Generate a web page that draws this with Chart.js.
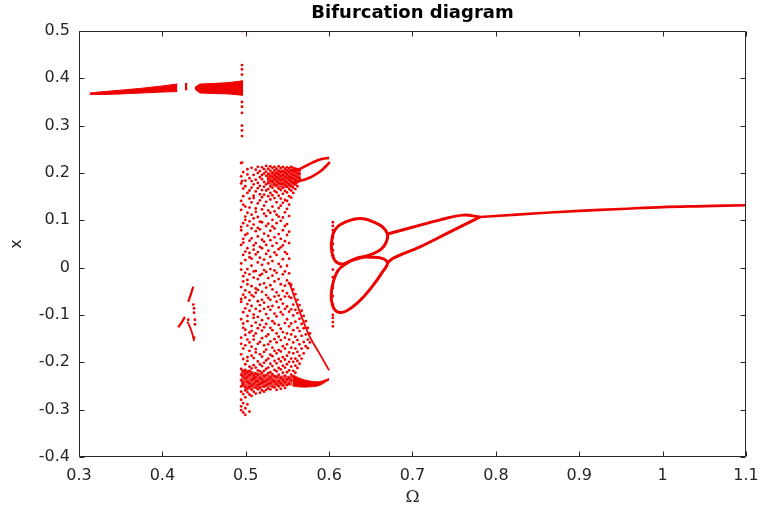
<!DOCTYPE html>
<html>
<head>
<meta charset="utf-8">
<script src="https://cdn.jsdelivr.net/npm/chart.js@4/dist/chart.umd.min.js"></script>
<style>
  html, body { margin: 0; background: #fff; }
</style>
</head>
<body>
<canvas id="chart" width="760" height="508"></canvas>
<script>
// axis ticks
const omegaTicks = [0.3, 0.4, 0.5, 0.6, 0.7, 0.8, 0.9, 1.0, 1.1];
const xTicks = [-0.4, -0.3, -0.2, -0.1, 0, 0.1, 0.2, 0.3, 0.4, 0.5];

// period-1 band near x = 0.38 (upper / lower edge of each piece)
const band1Om  = [0.313, 0.33, 0.35, 0.375, 0.4, 0.418];
const band1Top = [0.369, 0.372, 0.375, 0.379, 0.384, 0.388];
const band1Bot = [0.366, 0.366, 0.367, 0.369, 0.371, 0.372];
const band2Om  = [0.427, 0.430];
const band2Top = [0.389, 0.389];
const band2Bot = [0.376, 0.376];
const band3Om  = [0.439, 0.445, 0.46, 0.48, 0.497];
const band3Top = [0.381, 0.388, 0.389, 0.391, 0.395];
const band3Bot = [0.377, 0.369, 0.368, 0.367, 0.364];

// isolated iterates along Omega = 0.4955
const stripOm = 0.4955;
const stripX = [0.5, 0.428, 0.419, 0.408, 0.35, 0.34, 0.327, 0.3, 0.29, 0.278, 0.222, 0.183];

// small island around Omega = 0.42..0.44
const islandAOm = [0.419, 0.423, 0.427];
const islandAX  = [-0.126, -0.116, -0.104];
const islandBOm = [0.431, 0.434, 0.437];
const islandBX  = [-0.072, -0.057, -0.040];
const islandCOm = [0.430, 0.433, 0.436, 0.438];
const islandCX  = [-0.114, -0.125, -0.140, -0.155];
const islandDotOm = [0.437, 0.438, 0.438, 0.439, 0.439, 0.438, 0.431];
const islandDotX  = [-0.078, -0.086, -0.095, -0.110, -0.120, -0.148, -0.110];

// chaotic window: one column of iterates per Omega sample
const cloudOmega = [0.4945, 0.497, 0.4995, 0.502, 0.5045, 0.507, 0.5095, 0.512, 0.5145, 0.517,
  0.5195, 0.522, 0.5245, 0.527, 0.5295, 0.532, 0.5345, 0.537, 0.5395, 0.542, 0.5445, 0.547,
  0.5495, 0.552, 0.5545, 0.557, 0.5595, 0.562, 0.5645, 0.567, 0.5695, 0.572, 0.5745, 0.577];
const cloudX = [
  [0.221, 0.193, 0.178, 0.141, 0.122, 0.086, 0.079, 0.048, 0.009, -0.004, -0.041, -0.066, -0.072, -0.109, -0.148, -0.161, -0.183, -0.214, -0.226, -0.238, -0.251, -0.262, -0.279, -0.293, -0.301],
  [0.202, 0.167, 0.151, 0.133, 0.094, 0.061, 0.053, 0.027, -0.018, -0.029, -0.057, -0.094, -0.118, -0.127, -0.171, -0.193, -0.219, -0.229, -0.243, -0.248, -0.267, -0.286, -0.306],
  [0.184, 0.172, 0.129, 0.108, 0.101, 0.069, 0.034, 0.016, -0.011, -0.048, -0.063, -0.086, -0.131, -0.142, -0.164, -0.204, -0.216, -0.224, -0.234, -0.253, -0.259, -0.274, -0.297, -0.311],
  [0.208, 0.197, 0.158, 0.116, 0.089, 0.072, 0.041, -0.003, -0.026, -0.035, -0.077, -0.102, -0.113, -0.152, -0.189, -0.197, -0.221, -0.231, -0.241, -0.256, -0.263, -0.289],
  [0.189, 0.163, 0.146, 0.127, 0.098, 0.057, 0.031, 0.022, -0.014, -0.052, -0.069, -0.091, -0.137, -0.158, -0.176, -0.209, -0.218, -0.227, -0.244, -0.252, -0.268, -0.304],
  [0.211, 0.183, 0.169, 0.138, 0.112, 0.083, 0.062, 0.019, 0.004, -0.039, -0.058, -0.081, -0.123, -0.134, -0.167, -0.186, -0.213, -0.223, -0.237, -0.249, -0.258, -0.271],
  [0.196, 0.176, 0.152, 0.147, 0.104, 0.091, 0.047, 0.038, -0.008, -0.021, -0.061, -0.099, -0.106, -0.144, -0.152, -0.191, -0.206, -0.228, -0.235, -0.246, -0.262],
  [0.207, 0.186, 0.161, 0.125, 0.118, 0.077, 0.052, 0.028, -0.007, -0.044, -0.053, -0.087, -0.116, -0.139, -0.172, -0.179, -0.211, -0.224, -0.232, -0.241, -0.253, -0.266],
  [0.213, 0.2, 0.179, 0.168, 0.136, 0.107, 0.084, 0.066, 0.033, 0.011, -0.024, -0.047, -0.071, -0.104, -0.128, -0.161, -0.198, -0.217, -0.226, -0.239, -0.248, -0.257],
  [0.204, 0.191, 0.173, 0.155, 0.142, 0.097, 0.081, 0.044, 0.021, -0.016, -0.036, -0.079, -0.092, -0.121, -0.157, -0.183, -0.204, -0.219, -0.233, -0.245, -0.254, -0.264],
  [0.212, 0.196, 0.187, 0.164, 0.149, 0.123, 0.096, 0.059, 0.041, 0.006, -0.013, -0.051, -0.068, -0.111, -0.133, -0.149, -0.188, -0.208, -0.222, -0.236, -0.243, -0.259],
  [0.208, 0.199, 0.181, 0.171, 0.154, 0.131, 0.114, 0.072, 0.055, 0.017, -0.005, -0.033, -0.074, -0.087, -0.126, -0.164, -0.178, -0.201, -0.218, -0.229, -0.241, -0.251, -0.262],
  [0.215, 0.203, 0.194, 0.176, 0.163, 0.139, 0.109, 0.088, 0.048, 0.029, -0.009, -0.042, -0.058, -0.098, -0.119, -0.145, -0.173, -0.196, -0.214, -0.227, -0.239, -0.248, -0.258],
  [0.209, 0.198, 0.188, 0.179, 0.166, 0.151, 0.121, 0.093, 0.067, 0.036, 0.009, -0.022, -0.064, -0.083, -0.107, -0.141, -0.162, -0.192, -0.211, -0.223, -0.236, -0.246, -0.255],
  [0.214, 0.205, 0.193, 0.184, 0.172, 0.158, 0.144, 0.116, 0.078, 0.058, 0.023, -0.003, -0.037, -0.068, -0.089, -0.127, -0.156, -0.184, -0.203, -0.221, -0.232, -0.244, -0.257],
  [0.211, 0.201, 0.192, 0.182, 0.169, 0.153, 0.129, 0.101, 0.087, 0.046, 0.014, -0.017, -0.046, -0.081, -0.113, -0.132, -0.169, -0.187, -0.208, -0.225, -0.238, -0.252],
  [0.213, 0.206, 0.196, 0.187, 0.176, 0.162, 0.147, 0.119, 0.083, 0.064, 0.032, -0.006, -0.029, -0.061, -0.097, -0.118, -0.151, -0.176, -0.197, -0.216, -0.229, -0.241, -0.253],
  [0.209, 0.2, 0.191, 0.183, 0.174, 0.159, 0.138, 0.112, 0.094, 0.052, 0.027, -0.011, -0.052, -0.072, -0.103, -0.139, -0.158, -0.181, -0.202, -0.219, -0.231, -0.246, -0.258],
  [0.214, 0.205, 0.197, 0.188, 0.179, 0.167, 0.152, 0.126, 0.108, 0.071, 0.039, 0.008, -0.024, -0.059, -0.084, -0.121, -0.146, -0.174, -0.193, -0.212, -0.226, -0.24, -0.251],
  [0.21, 0.202, 0.193, 0.185, 0.177, 0.164, 0.146, 0.131, 0.099, 0.061, 0.043, 0.002, -0.035, -0.067, -0.094, -0.129, -0.153, -0.177, -0.198, -0.215, -0.233, -0.244, -0.256],
  [0.213, 0.204, 0.196, 0.187, 0.178, 0.169, 0.156, 0.137, 0.106, 0.079, 0.047, 0.018, -0.014, -0.049, -0.076, -0.099, -0.136, -0.166, -0.189, -0.207, -0.222, -0.237, -0.249],
  [0.209, 0.201, 0.192, 0.183, 0.175, 0.162, 0.143, 0.117, 0.088, 0.056, 0.033, -0.008, -0.038, -0.061, -0.087, -0.117, -0.148, -0.171, -0.194, -0.211, -0.228, -0.242, -0.254],
  [0.212, 0.205, 0.197, 0.189, 0.18, 0.171, 0.159, 0.141, 0.124, 0.092, 0.069, 0.029, 0.004, -0.027, -0.054, -0.082, -0.109, -0.139, -0.162, -0.186, -0.204, -0.221, -0.236, -0.248],
  [0.21, 0.202, 0.193, 0.186, 0.176, 0.166, 0.151, 0.133, 0.109, 0.076, 0.052, 0.019, -0.012, -0.033, -0.061, -0.093, -0.124, -0.152, -0.179, -0.199, -0.217, -0.233, -0.245],
  [0.213, 0.206, 0.198, 0.19, 0.182, 0.172, 0.163, 0.148, -0.036, -0.064, -0.088, -0.118, -0.141, -0.169, -0.192, -0.209, -0.226, -0.238],
  [0.211, 0.204, 0.196, 0.188, 0.179, 0.169, 0.158, -0.046, -0.078, -0.101, -0.132, -0.158, -0.181, -0.199, -0.218, -0.231],
  [0.209, 0.202, 0.194, 0.186, 0.176, 0.166, -0.056, -0.089, -0.114, -0.146, -0.171, -0.192, -0.207, -0.222],
  [0.208, 0.2, 0.192, 0.183, 0.172, -0.068, -0.096, -0.127, -0.153, -0.178, -0.197, -0.212],
  [0.206, 0.198, 0.189, -0.079, -0.108, -0.134, -0.162, -0.186, -0.203],
  [-0.091, -0.119, -0.144, -0.171, -0.192],
  [-0.102, -0.128, -0.157, -0.181],
  [-0.113, -0.141, -0.166],
  [-0.127, -0.152, -0.17],
  [-0.139, -0.158]
];

// dense parts of the chaotic window
const lowBandOm  = [0.494, 0.505, 0.515, 0.53, 0.545, 0.556];
const lowBandTop = [-0.214, -0.217, -0.222, -0.226, -0.228, -0.229];
const lowBandBot = [-0.25, -0.258, -0.255, -0.252, -0.25, -0.249];
const wedgeOm  = [0.525, 0.54, 0.555, 0.566];
const wedgeTop = [0.2, 0.206, 0.209, 0.21];
const wedgeBot = [0.178, 0.168, 0.17, 0.182];

// claws closing the window at Omega = 0.6
const clawUpOm  = [0.556, 0.564, 0.572, 0.58, 0.59, 0.600];
const clawUpX   = [0.205, 0.208, 0.215, 0.222, 0.229, 0.232];
const clawUp2Om = [0.556, 0.564, 0.572, 0.58, 0.59, 0.601];
const clawUp2X  = [0.178, 0.183, 0.187, 0.193, 0.204, 0.223];
const clawLowOm  = [0.556, 0.565, 0.575, 0.588, 0.6];
const clawLowTop = [-0.226, -0.234, -0.239, -0.241, -0.234];
const clawLowBot = [-0.25, -0.252, -0.252, -0.249, -0.237];
const edgeOm = [0.552, 0.563, 0.576, 0.588, 0.6];
const edgeX  = [-0.03, -0.085, -0.143, -0.18, -0.217];

// period-2 loops
const loopUpOm = [0.6025, 0.605, 0.611, 0.619, 0.631, 0.643, 0.654, 0.664, 0.670, 0.6685, 0.6625, 0.652, 0.640, 0.628, 0.617, 0.6085, 0.604, 0.6025];
const loopUpX  = [0.048, 0.073, 0.088, 0.096, 0.103, 0.103, 0.096, 0.086, 0.071, 0.054, 0.039, 0.029, 0.022, 0.016, 0.008, 0.012, 0.027, 0.048];
const loopLowOm = [0.623, 0.611, 0.605, 0.6025, 0.604, 0.6085, 0.617, 0.628, 0.640, 0.652, 0.6625, 0.670, 0.6625, 0.6495, 0.637, 0.623];
const loopLowX  = [0.012, -0.005, -0.03, -0.058, -0.079, -0.092, -0.094, -0.083, -0.064, -0.039, -0.013, 0.010, 0.020, 0.022, 0.022, 0.012];
const sideOm = 0.6045;
const sideX = [0.096, 0.088, 0.079, 0.064, 0.05, 0.037, 0.026, -0.004, -0.02, -0.043, -0.06, -0.078, -0.1, -0.106, -0.115, -0.124];

// period-2 branches merging into the period-1 tail
const branchUpOm = [0.670, 0.701, 0.733, 0.761, 0.781];
const branchUpX  = [0.071, 0.086, 0.101, 0.111, 0.107];
const branchLowOm = [0.670, 0.677, 0.709, 0.742, 0.766, 0.781];
const branchLowX  = [0.010, 0.020, 0.044, 0.073, 0.094, 0.107];
const tailOm = [0.781, 0.8, 0.85, 0.9, 0.95, 1.0, 1.05, 1.1];
const tailX  = [0.107, 0.109, 0.115, 0.120, 0.124, 0.128, 0.130, 0.132];

const RED = 'rgb(238,0,0)';
const RED_DENSE = 'rgba(238,0,0,0.7)';
const AXIS = '#262626';

const pts = (om, xs) => om.map((o, i) => ({ x: o, y: xs[i] }));
const col = (o, xs) => xs.map(v => ({ x: o, y: v }));

const curve = (data, width, extra) => Object.assign({
  data, showLine: true, borderColor: RED, backgroundColor: RED,
  borderWidth: width, pointRadius: 0, tension: 0.35, fill: false
}, extra || {});
const dots = (data, r) => ({
  data, showLine: false, pointRadius: r || 1.4, pointHoverRadius: 0,
  pointBackgroundColor: RED, pointBorderWidth: 0
});
// a filled band: upper edge fills down to the next dataset
const band = (om, top, bot, tension, color) => [
  curve(pts(om, top), color ? 0 : 1, { fill: '+1', tension: tension || 0, backgroundColor: color || RED }),
  curve(pts(om, bot), color ? 0 : 1, { tension: tension || 0 })
];

const cloudPts = cloudOmega.flatMap((o, i) => col(o, cloudX[i]));

const datasets = [
  ...band(band1Om, band1Top, band1Bot),
  ...band(band2Om, band2Top, band2Bot),
  ...band(band3Om, band3Top, band3Bot),
  dots(col(stripOm, stripX)),
  curve(pts(islandAOm, islandAX), 2.2),
  curve(pts(islandBOm, islandBX), 2.2),
  curve(pts(islandCOm, islandCX), 1.8),
  dots(pts(islandDotOm, islandDotX)),
  dots(cloudPts),
  ...band(lowBandOm, lowBandTop, lowBandBot, 0.3, RED_DENSE),
  ...band(wedgeOm, wedgeTop, wedgeBot, 0.3, RED_DENSE),
  curve(pts(clawUpOm, clawUpX), 2.6),
  curve(pts(clawUp2Om, clawUp2X), 2.6),
  ...band(clawLowOm, clawLowTop, clawLowBot, 0.3),
  curve(pts(edgeOm, edgeX), 1.8),
  curve(pts(loopUpOm, loopUpX), 3),
  curve(pts(loopLowOm, loopLowX), 3),
  dots(col(sideOm, sideX)),
  curve(pts(branchUpOm, branchUpX), 3),
  curve(pts(branchLowOm, branchLowX), 3),
  curve(pts(tailOm, tailX), 2.6)
];

// box around the plot area with inward tick marks on all four sides
const frame = {
  id: 'frame',
  afterDatasetsDraw(chart) {
    const { ctx, chartArea: a, scales } = chart;
    const L = Math.round(a.left) + 0.5, R = Math.round(a.right) - 0.5;
    const T = Math.round(a.top) + 0.5, B = Math.round(a.bottom) - 0.5;
    const len = 5;
    ctx.save();
    ctx.strokeStyle = AXIS;
    ctx.lineWidth = 1;
    ctx.beginPath();
    ctx.rect(L, T, R - L, B - T);
    omegaTicks.forEach(v => {
      const px = Math.round(scales.x.getPixelForValue(v)) + 0.5;
      ctx.moveTo(px, B); ctx.lineTo(px, B - len);
      ctx.moveTo(px, T); ctx.lineTo(px, T + len);
    });
    xTicks.forEach(v => {
      const py = Math.round(scales.y.getPixelForValue(v)) + 0.5;
      ctx.moveTo(L, py); ctx.lineTo(L + len, py);
      ctx.moveTo(R, py); ctx.lineTo(R - len, py);
    });
    ctx.stroke();
    ctx.restore();
  }
};

const tickFont = { family: 'DejaVu Sans', size: 16 };
const fmt = v => String(+Number(v).toFixed(1));
const noSidePad = s => { s.paddingLeft = 0; s.paddingRight = 0; };

new Chart(document.getElementById('chart'), {
  type: 'scatter',
  data: { datasets },
  options: {
    responsive: false,
    animation: false,
    layout: { padding: { left: 0, right: 14, top: 0, bottom: 0 } },
    plugins: { legend: { display: false }, tooltip: { enabled: false }, title: { display: false } },
    scales: {
      x: {
        type: 'linear', position: 'bottom', min: 0.3, max: 1.1,
        afterBuildTicks: s => { s.ticks = omegaTicks.map(v => ({ value: v })); },
        afterFit: s => { s.height = 51; noSidePad(s); },
        grid: { display: false, drawTicks: false },
        border: { display: false },
        ticks: { padding: 9, color: AXIS, font: tickFont, callback: fmt, maxRotation: 0, autoSkip: false },
        title: { display: true, text: 'Ω', color: AXIS, font: { family: 'DejaVu Serif', size: 17 }, padding: { top: 0, bottom: 0 } }
      },
      x2: {
        type: 'linear', position: 'top', min: 0.3, max: 1.1,
        afterFit: s => { s.height = 31; noSidePad(s); },
        grid: { display: false, drawTicks: false },
        border: { display: false },
        ticks: { display: false },
        title: { display: true, text: 'Bifurcation diagram', color: '#000', font: { family: 'DejaVu Sans', size: 18, weight: 'bold' }, padding: { top: 3, bottom: 0 } }
      },
      y: {
        type: 'linear', position: 'left', min: -0.4, max: 0.5,
        afterBuildTicks: s => { s.ticks = xTicks.map(v => ({ value: v })); },
        afterFit: s => { s.width = 79; },
        grid: { display: false, drawTicks: false },
        border: { display: false },
        ticks: { padding: 9, color: AXIS, font: tickFont, callback: fmt, autoSkip: false },
        title: { display: true, text: 'x', color: AXIS, font: { family: 'DejaVu Sans', size: 16 }, padding: { top: 7, bottom: 0 } }
      }
    }
  },
  plugins: [frame]
});
</script>
</body>
</html>
